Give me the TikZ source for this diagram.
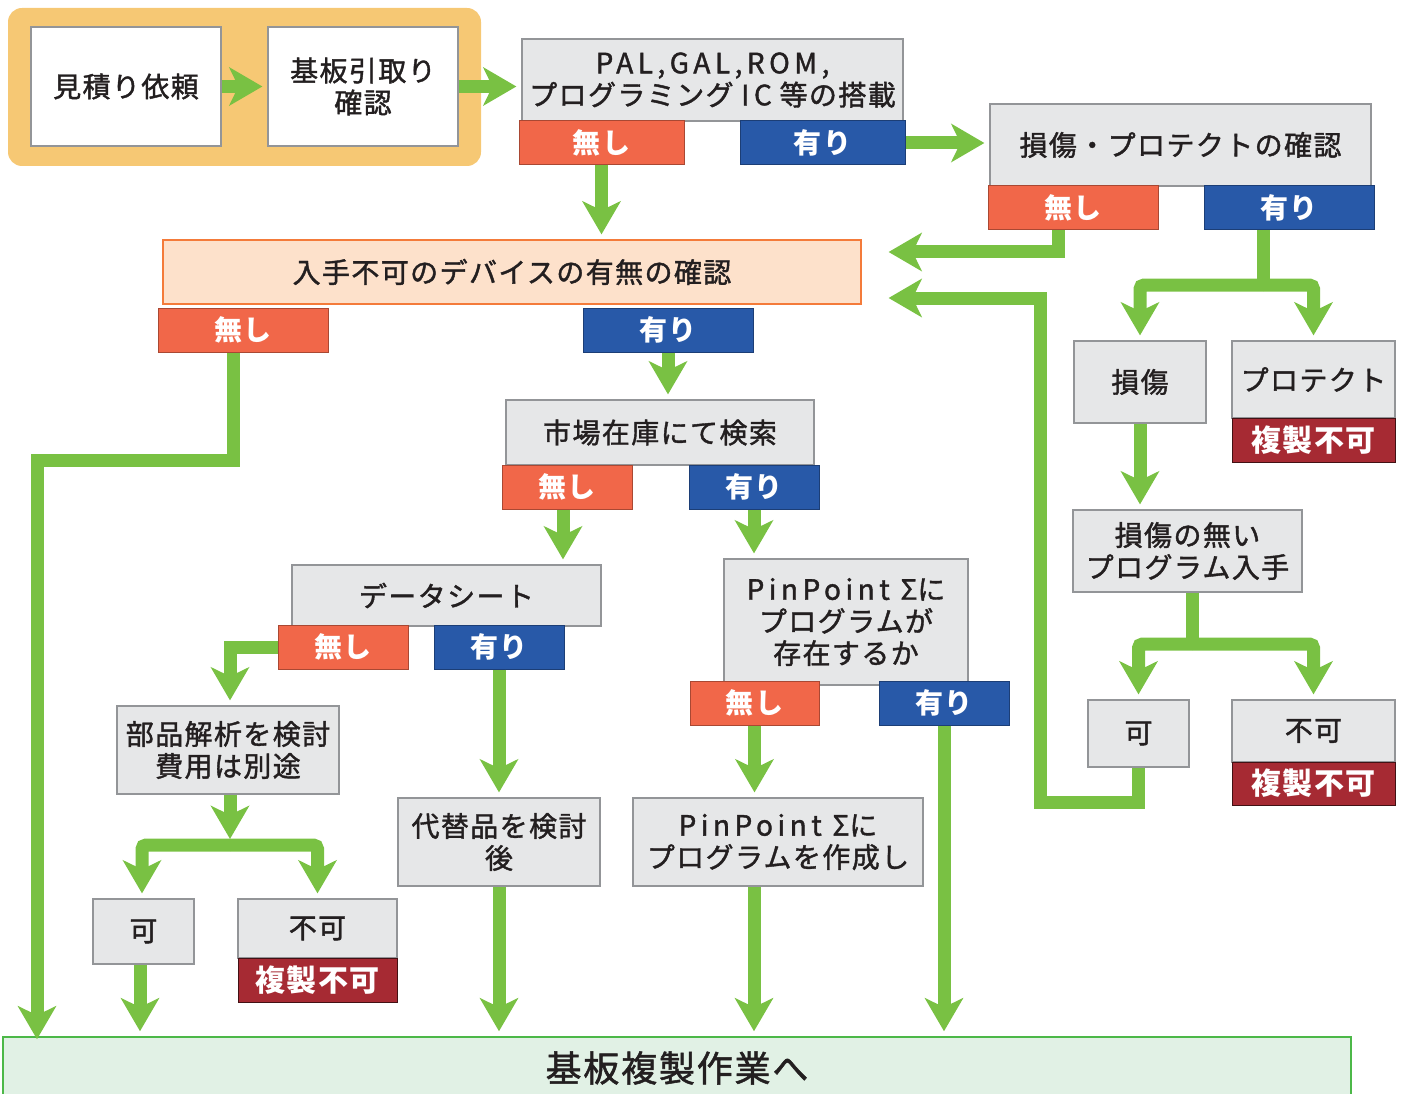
\documentclass[tikz,border=0pt]{standalone}
\usepackage{fontspec}
\setmainfont{Noto Sans CJK JP}[LetterSpace=5,UprightFeatures={FakeBold=1.4}]
\newfontfamily\widelatin{Noto Sans CJK JP}[LetterSpace=16,UprightFeatures={FakeBold=1.4}]
\usetikzlibrary{arrows.meta}

\definecolor{bgorange}{HTML}{F6C874}
\definecolor{boxgray}{HTML}{E6E7E8}
\definecolor{boxline}{HTML}{939598}
\definecolor{nored}{HTML}{F16749}
\definecolor{yesblue}{HTML}{2859A8}
\definecolor{ngred}{HTML}{A62A33}
\definecolor{peach}{HTML}{FDE1CB}
\definecolor{peachline}{HTML}{F47B3A}
\definecolor{flowgreen}{HTML}{79C143}
\definecolor{basefill}{HTML}{E1F1E5}
\definecolor{baseline}{HTML}{4CB848}
\definecolor{ink}{HTML}{231F20}

\newcommand\boxfont{\fontsize{28}{32}\selectfont}

\begin{document}
\begin{tikzpicture}[x=1pt,y=-1pt,line join=miter,
  graybox/.style={draw=boxline,line width=1.2pt,fill=boxgray,text=ink,inner sep=0pt,align=center,font=\boxfont},
  whitebox/.style={graybox,fill=white},
  nobox/.style={draw=nored!70!black,line width=1pt,fill=nored,text=white,inner sep=0pt,font=\boxfont\bfseries},
  yesbox/.style={draw=yesblue!70!black,line width=1pt,fill=yesblue,text=white,inner sep=0pt,font=\boxfont\bfseries},
  ngbox/.style={draw=ngred!40!black,line width=1pt,fill=ngred,text=white,inner sep=0pt,font=\fontsize{30}{32}\selectfont\bfseries},
  flowline/.style={draw=flowgreen,line width=13pt},
  flow/.style={flowline,-{Stealth[length=33pt,width=38pt,inset=9pt]},shorten >=5pt},
  split/.style={flow,rounded corners=4pt}]
\useasboundingbox (0,0) rectangle (1406,1094);

% request block
\fill[bgorange,rounded corners=14pt] (8,8) rectangle (481,166);
\node[whitebox,minimum width=190pt,minimum height=119pt] (req) at (126,86.5) {見積り依頼};
\node[whitebox,minimum width=190pt,minimum height=119pt] (pickup) at (363,86.5) {基板引取り\\確認};

% PAL / GAL / ROM
\node[graybox,minimum width=381pt,minimum height=82pt] (pal) at (712.5,80) {{\widelatin PAL,GAL,ROM,}\\プログラミング {\widelatin IC} 等の搭載};
\node[nobox,minimum width=165pt,minimum height=44pt] (palno) at (601.5,143) {無し};
\node[yesbox,minimum width=165pt,minimum height=44pt] (palyes) at (822.5,143) {有り};

% damage / protect
\node[graybox,minimum width=381pt,minimum height=82pt] (chk) at (1180.5,145) {損傷・プロテクトの確認};
\node[nobox,minimum width=170pt,minimum height=44pt] (chkno) at (1073,208) {無し};
\node[yesbox,minimum width=170pt,minimum height=44pt] (chkyes) at (1289,208) {有り};

% availability
\node[graybox,draw=peachline,fill=peach,minimum width=698pt,minimum height=64pt] (avail) at (512,272) {入手不可のデバイスの有無の確認};
\node[nobox,minimum width=170pt,minimum height=44pt] (availno) at (243,330) {無し};
\node[yesbox,minimum width=170pt,minimum height=44pt] (availyes) at (668,330) {有り};

% market
\node[graybox,minimum width=308pt,minimum height=65pt] (market) at (660,432.5) {市場在庫にて検索};
\node[nobox,minimum width=130pt,minimum height=44pt] (mktno) at (567,487) {無し};
\node[yesbox,minimum width=130pt,minimum height=44pt] (mktyes) at (754,487) {有り};

% data sheet
\node[graybox,minimum width=309pt,minimum height=61pt] (sheet) at (446.5,595.5) {データシート};
\node[nobox,minimum width=130pt,minimum height=44pt] (shno) at (343,647) {無し};
\node[yesbox,minimum width=130pt,minimum height=44pt] (shyes) at (499,647) {有り};

\node[graybox,minimum width=222pt,minimum height=88pt] (parts) at (228,750) {部品解析を検討\\費用は別途};
\node[graybox,minimum width=101pt,minimum height=65pt] (partsok) at (143.5,931.5) {可};
\node[graybox,minimum width=159pt,minimum height=59pt] (partsng) at (317.5,928.5) {不可};
\node[ngbox,minimum width=159pt,minimum height=44pt] (partsngx) at (317.5,980) {複製不可};
\node[graybox,minimum width=202pt,minimum height=88pt] (alt) at (499,842) {代替品を検討\\後};

% PinPoint
\node[graybox,minimum width=244pt,minimum height=126pt] (pp) at (846,622) {{\widelatin PinPoint Σ}に\\プログラムが\\存在するか};
\node[nobox,minimum width=129pt,minimum height=44pt] (ppno) at (754.5,703) {無し};
\node[yesbox,minimum width=130pt,minimum height=44pt] (ppyes) at (944,703) {有り};
\node[graybox,minimum width=290pt,minimum height=88pt] (ppmake) at (778,842) {{\widelatin PinPoint Σ}に\\プログラムを作成し};

% right column
\node[graybox,minimum width=132pt,minimum height=82pt] (dmg) at (1140,382) {損傷};
\node[graybox,minimum width=163pt,minimum height=77pt] (prot) at (1313.5,379.5) {プロテクト};
\node[ngbox,minimum width=163pt,minimum height=44pt] (protx) at (1313.5,440) {複製不可};
\node[graybox,minimum width=229pt,minimum height=82pt] (clean) at (1187.5,551) {損傷の無い\\プログラム入手};
\node[graybox,minimum width=101pt,minimum height=67pt] (cleanok) at (1138.5,733.5) {可};
\node[graybox,minimum width=163pt,minimum height=62pt] (cleanng) at (1313.5,731) {不可};
\node[ngbox,minimum width=163pt,minimum height=43pt] (cleanngx) at (1313.5,783.5) {複製不可};

% goal
\node[draw=baseline,line width=1.5pt,fill=basefill,text=ink,minimum width=1348pt,minimum height=62pt,
  font=\fontsize{36}{40}\selectfont] (base) at (677,1068) {基板複製作業へ};

% connectors
\coordinate (chksplit) at (1263,285);
\coordinate (leftrail) at (37,460);
\coordinate (partssplit) at (230,845);
\coordinate (cleansplit) at (1192,644);
\coordinate (backrail) at (1040,802);

\draw[flow] (req) -- (pickup);
\draw[flow] (pickup.east) -- (pickup.east -| pal.west);
\draw[flow] (palno.south) -- (palno.south |- avail.north);
\draw[flow] (palyes.east) -- (palyes.east -| chk.west);
\draw[flow] ([xshift=-15pt]chkno.south) |- ([xshift=22pt,yshift=20pt]avail.east);
\draw[flowline] ([xshift=-26pt]chkyes.south) -- (chksplit);
\draw[split] (chksplit) -| (dmg.north);
\draw[split] (chksplit) -| (prot.north);
\draw[flow,shorten >=-3pt] ([xshift=-10pt]availno.south) |- (leftrail) -- (leftrail |- base.north);
\draw[flow] (availyes.south) -- (availyes.south |- market.north);
\draw[flow] ([xshift=-4pt]mktno.south) -- ([xshift=-4pt]mktno.south |- sheet.north);
\draw[flow] (mktyes.south) -- (mktyes.south |- pp.north);
\draw[flow] (shno.west) -| ([xshift=2pt]parts.north);
\draw[flow] (shyes.south) -- (alt.north);
\draw[flow,shorten >=0pt] ([xshift=2pt]parts.south) -- ([yshift=6pt]partssplit);
\draw[split] (partssplit) -| ([xshift=-1.5pt]partsok.north);
\draw[split] (partssplit) -| (partsng.north);
\draw[flow] ([xshift=-3.5pt]partsok.south) -- ([xshift=-3.5pt]partsok.south |- base.north);
\draw[flow] (alt.south) -- (alt.south |- base.north);
\draw[flow] (ppno.south) -- (ppno.south |- ppmake.north);
\draw[flow] (ppyes.south) -- (ppyes.south |- base.north);
\draw[flow] ([xshift=-24pt]ppmake.south) -- ([xshift=-24pt]ppmake.south |- base.north);
\draw[flow] (dmg.south) -- (dmg.south |- clean.north);
\draw[flowline] ([xshift=4.5pt]clean.south) -- (cleansplit);
\draw[split] (cleansplit) -| (cleanok.north);
\draw[split] (cleansplit) -| (cleanng.north);
\draw[flow] (cleanok.south) |- (backrail) |- ([xshift=22pt,yshift=-26pt]avail.east);
\end{tikzpicture}
\end{document}
